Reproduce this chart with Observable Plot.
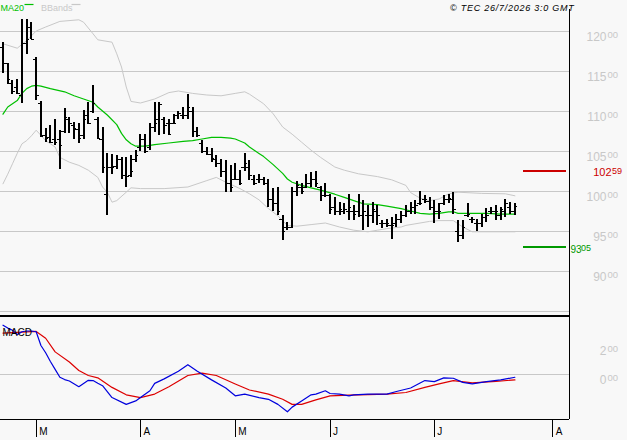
<!DOCTYPE html>
<html><head><meta charset="utf-8">
<script src="https://cdn.jsdelivr.net/npm/d3@7"></script>
<script src="https://cdn.jsdelivr.net/npm/@observablehq/plot@0.6"></script>
<style>
body{margin:0;background:#f8f8f8;}
#chart{position:relative;width:627px;height:440px;background:#f8f8f8;overflow:hidden;}
#chart svg{position:absolute;left:0;}
</style></head><body><div id="chart"></div>
<script>
// ---- data (bar index = trading day) ----
const highs  = [118.7,116.0,113.9,114.1,121.5,121.5,121.2,116.8,111.3,107.9,108.3,109.1,107.7,110.4,109.3,108.7,108.5,110.2,111.2,113.3,109.3,108.1,104.75,104.7,104.5,104.3,104.3,104.5,105.2,107.2,107.2,108.5,111.2,111.2,109.3,109.1,109.7,110.0,110.6,112.2,110.6,108.1,106.4,105.6,105.4,104.5,104.1,103.9,103.3,103.5,102.7,104.75,103.9,102.0,102.2,101.8,101.6,100.4,100.6,97.0,96.2,100.5,101.3,101.1,102.2,102.4,102.5,100.7,101.0,99.7,99.3,98.7,98.5,99.7,98.3,99.7,98.9,98.3,98.7,98.3,96.4,96.6,96.8,97.2,97.5,98.3,98.7,98.9,100.1,99.5,99.3,98.9,98.5,99.5,99.7,99.95,96.4,96.4,98.5,96.8,96.6,97.2,97.9,98.1,98.3,98.1,99.1,98.7,98.5];
const lows   = [114.8,113.4,112.2,112.2,111.1,117.2,119.0,111.4,106.8,106.2,106.1,105.8,102.75,107.3,107.3,106.6,106.0,106.5,108.4,109.75,106.6,102.3,97.0,102.2,102.75,101.6,100.6,101.8,103.7,105.0,104.75,105.2,107.45,107.0,107.2,107.0,108.5,109.1,109.1,109.1,106.8,106.8,104.75,104.5,103.7,103.1,101.8,99.95,99.95,101.4,100.8,102.5,101.4,100.8,101.0,100.8,98.1,97.5,97.0,93.9,95.2,95.4,99.4,99.7,100.4,100.6,100.5,98.8,99.3,97.2,97.0,97.0,97.2,96.4,96.4,96.8,95.2,95.6,96.0,95.8,95.4,95.6,94.0,95.6,96.0,96.8,97.2,97.2,98.3,98.5,97.7,96.0,96.6,98.3,98.5,97.2,93.7,94.1,96.8,96.0,95.0,95.6,96.2,97.2,96.4,96.4,96.8,97.2,97.0];
const opens  = [118.1,116.0,113.5,113.0,112.0,118.5,120.6,116.5,111.0,107.0,106.8,106.5,106.5,107.5,109.0,108.3,107.8,107.0,109.5,110.0,109.0,106.6,99.7,103.0,103.2,104.0,102.0,102.0,104.0,105.5,106.5,105.5,108.0,109.0,109.0,108.5,108.6,109.5,109.5,109.5,110.0,107.5,106.0,105.0,104.7,104.0,103.5,102.5,101.0,101.5,101.5,103.0,103.0,101.5,101.5,101.5,101.0,99.0,98.5,96.5,95.5,95.5,100.0,100.5,100.5,101.0,101.5,100.5,99.5,99.5,98.0,97.5,97.5,97.5,97.5,97.5,97.0,97.0,97.0,97.5,96.0,96.0,95.8,96.0,96.5,97.0,97.5,98.0,98.5,99.0,98.8,98.0,97.5,98.5,99.0,99.0,95.0,94.5,97.0,96.5,96.0,96.0,96.8,97.5,97.5,97.0,97.5,98.0,97.5];
const closes = [116.0,114.0,112.5,112.3,118.5,119.0,119.0,112.0,106.9,106.7,106.2,106.2,105.8,109.3,108.5,107.9,106.7,109.0,108.5,111.0,106.7,103.0,103.1,103.1,104.0,102.0,101.9,102.5,104.5,106.5,105.0,108.0,108.6,110.9,108.3,107.2,108.6,109.8,109.5,110.5,107.5,107.0,105.0,104.7,104.2,103.5,102.5,101.0,100.5,101.5,101.0,103.5,102.0,101.0,101.5,101.0,99.0,98.5,97.5,95.0,95.5,100.0,100.8,100.0,101.0,101.6,101.0,99.5,99.5,97.8,97.5,97.8,97.8,98.0,97.2,97.0,97.5,97.0,97.8,97.0,96.0,96.0,95.8,96.5,97.0,97.5,98.0,98.3,98.6,99.0,98.0,97.5,97.5,99.0,99.2,97.8,94.5,95.5,97.2,96.5,96.0,96.8,97.0,97.5,97.5,97.8,98.5,97.5,98.2];

const maIdx = [0,1,3,4,5,6,7,8,10,13,15,17,19,20,22,24,25,26,27,28,29,30,32,35,38,40,42,44,46,48,49,51,52,53,54,55,57,59,60,61,63,65,67,70,72,74,76,79,81,84,86,88,90,92,94,95,96,99,102,105,108];
const maVal = [109.7,110.6,111.4,112.3,112.9,113.2,113.3,113.2,112.9,112.5,112.0,111.6,111.2,110.6,109.6,108.4,107.3,106.5,106.0,105.7,105.7,105.7,105.9,106.1,106.3,106.4,106.6,106.8,106.8,106.7,106.6,106.1,105.6,105.2,104.8,104.4,103.4,102.3,101.6,101.2,100.8,100.5,100.2,99.7,99.3,98.9,98.5,98.4,98.2,97.9,97.6,97.3,97.2,97.3,97.5,97.5,97.3,97.3,97.3,97.2,97.2];

const bbUpIdx = [0,3,5,7,9,12,16,17,19,20,23,24,25,26,27,29,32,35,37,40,43,46,49,51,52,55,57,59,61,63,65,67,70,72,75,79,82,85,86,88,90,92,94,96,101,106,108];
const bbUpVal = [118.5,117.95,118.9,120.1,120.6,121.3,121.5,121.2,119.75,119.0,118.7,117.25,115.6,113.1,111.3,111.1,111.6,112.4,112.6,112.3,112.1,112.0,112.3,112.5,112.2,111.0,109.75,108.1,107.2,106.2,105.2,104.3,103.1,102.7,102.25,101.9,101.5,100.8,99.9,99.2,98.9,99.1,99.75,99.95,99.8,99.75,99.5];
const bbLoIdx = [0,1,2,3,4,5,6,7,9,11,12,14,16,18,20,21,22,23,24,26,27,29,34,39,43,45,47,50,52,54,56,58,60,62,65,68,71,74,77,79,81,84,85,90,92,95,97,99,108];
const bbLoVal = [101.0,102.2,103.5,104.8,106.0,106.4,107.0,107.7,106.4,105.6,104.3,103.7,103.3,102.7,101.8,100.6,99.95,98.7,98.9,99.95,100.5,100.4,100.4,100.6,101.4,101.8,101.2,100.4,99.75,99.0,97.9,97.0,95.8,95.7,95.9,96.1,95.6,95.2,95.0,95.2,95.4,95.6,95.8,96.3,96.4,96.4,95.6,95.0,95.0];

const macdIdx = [0,1,2,3,4,5,6,7,8,9,10,11,12,13,14,16,18,19,20,21,23,26,28,29,31,32,34,37,39,41,44,47,49,51,54,56,58,60,61,63,65,66,68,69,71,73,74,77,81,83,86,89,91,93,95,97,99,102,105,108];
const macdVal = [3.4,3.2,3.05,2.75,2.95,3.0,3.0,2.95,2.0,1.5,0.9,0.35,-0.19,-0.35,-0.45,-0.84,-0.4,-0.42,-0.6,-0.77,-1.59,-2.06,-1.82,-1.59,-1.12,-0.61,-0.3,0.23,0.68,0.23,-0.37,-0.93,-1.47,-1.35,-1.59,-1.71,-2.06,-2.57,-2.25,-1.82,-1.40,-1.35,-1.12,-1.31,-1.35,-1.47,-1.40,-1.35,-1.35,-1.17,-0.93,-0.42,-0.49,-0.23,-0.26,-0.54,-0.65,-0.49,-0.37,-0.19];
const sigIdx = [0,3,7,9,11,14,16,18,20,23,26,29,32,35,39,42,45,49,52,56,59,61,63,66,69,73,81,85,89,92,95,99,104,108];
const sigVal = [2.86,2.9,2.97,2.5,1.56,0.86,0.28,-0.07,-0.23,-0.89,-1.40,-1.59,-1.35,-0.84,-0.07,0.09,-0.07,-0.65,-1.07,-1.35,-1.71,-2.06,-2.06,-1.75,-1.47,-1.42,-1.35,-1.24,-0.89,-0.65,-0.42,-0.58,-0.47,-0.37];

const monthIdx = [7,29,49,69,91,116];
const monthLabels = ["M","A","M","J","J","A"];
const priceGrid = [85,90,95,100,105,110,115,120];
const priceLabels = [90,95,100,105,110,115,120];
const macdLabels = [0,2];
const refLevels = [102.59, 93.05];
const refColors = ["#cc0000", "#009900"];
const copyright = "© TEC 26/7/2026 3:0 GMT";

// ---- build ----
const font = '"Liberation Sans", Arial, sans-serif';
const step = 4.74, x0 = 2.5, frameRight = 569;
const xDomain = [-x0 / step, (frameRight - x0) / step];
const xMax = xDomain[1];
const nBars = highs.length;
const bars = highs.map((h, i) => ({i, high: h, low: lows[i], open: opens[i], close: closes[i]}));
const pts = (idx, val) => idx.map((d, k) => ({i: d, v: val[k]}));
const intPart = v => String(Math.floor(v + 1e-9));
const decPart = v => d3.format(".2f")(v).split(".")[1];
const refs = refLevels.map((v, k) => ({v, c: refColors[k]}));
const crisp = "crispEdges";

const yMain = [120 - (313 - 31.3) / 8, 120 + 31.3 / 8];
const main = Plot.plot({
  width: 627, height: 313,
  marginTop: 0, marginBottom: 0, marginLeft: 0, marginRight: 627 - frameRight,
  style: {background: "transparent", fontFamily: font, overflow: "visible"},
  x: {domain: xDomain, axis: null},
  y: {domain: yMain, axis: null},
  marks: [
    Plot.ruleY(priceGrid, {stroke: "#c8c8c8", strokeWidth: 1, shapeRendering: crisp}),
    Plot.line(pts(bbUpIdx, bbUpVal), {x: "i", y: "v", stroke: "#c8c8c8", strokeWidth: 1}),
    Plot.line(pts(bbLoIdx, bbLoVal), {x: "i", y: "v", stroke: "#c8c8c8", strokeWidth: 1}),
    Plot.line(pts(maIdx, maVal), {x: "i", y: "v", stroke: "#00c000", strokeWidth: 1.2}),
    Plot.ruleX(bars, {x: "i", y1: "low", y2: "high", stroke: "#000", strokeWidth: 2, shapeRendering: crisp}),
    Plot.ruleY(bars, {y: "open", x1: d => d.i - 0.6, x2: "i", stroke: "#000", strokeWidth: 1, shapeRendering: crisp}),
    Plot.ruleY(bars, {y: "close", x1: "i", x2: d => d.i + 0.6, stroke: "#000", strokeWidth: 1, shapeRendering: crisp}),
    Plot.ruleY(refs, {y: "v", x1: nBars + 0.9, x2: nBars + 9.9, stroke: "c", strokeWidth: 2, shapeRendering: crisp}),
    Plot.ruleX([xMax], {y1: yMain[0], y2: 122.75, stroke: "#000", strokeWidth: 1, shapeRendering: crisp}),
    // right axis labels
    Plot.text(priceLabels, {y: d => d, text: intPart, frameAnchor: "right", textAnchor: "end", dx: 37, dy: 5.5, fill: "#c8c8c8", fontSize: 12}),
    Plot.text(priceLabels, {y: d => d, text: decPart, frameAnchor: "right", textAnchor: "start", dx: 38, dy: 3.5, fill: "#c8c8c8", fontSize: 9.5}),
    // reference labels
    Plot.text([refs[0]], {y: "v", text: d => intPart(d.v), frameAnchor: "right", textAnchor: "end", dx: 42, dy: 1.8, fill: "c", fontSize: 11}),
    Plot.text([refs[0]], {y: "v", text: d => decPart(d.v), frameAnchor: "right", textAnchor: "start", dx: 42.5, dy: 0, fill: "c", fontSize: 9}),
    Plot.text([refs[1]], {y: "v", text: d => intPart(d.v), frameAnchor: "right", textAnchor: "start", dx: 1, dy: 2.4, fill: "c", fontSize: 10}),
    Plot.text([refs[1]], {y: "v", text: d => decPart(d.v), frameAnchor: "right", textAnchor: "start", dx: 11.5, dy: 1, fill: "c", fontSize: 9}),
    // header
    Plot.text(["MA20"], {frameAnchor: "top-left", textAnchor: "start", dx: 0, dy: 4.5, fill: "#00c000", fontSize: 9}),
    Plot.text(["BBands"], {frameAnchor: "top-left", textAnchor: "start", dx: 40.5, dy: 4.5, fill: "#c8c8c8", fontSize: 9}),
    Plot.text([copyright], {frameAnchor: "top-right", textAnchor: "end", dx: 5, dy: 4.5, fill: "#000", fontSize: 9, fontStyle: "italic"})
  ]
});

const yMacd = [(374 - 419) / 14.5, (374 - 313) / 14.5];
const macd = Plot.plot({
  width: 627, height: 127,
  marginTop: 0, marginBottom: 21, marginLeft: 0, marginRight: 627 - frameRight,
  style: {background: "transparent", fontFamily: font, overflow: "visible"},
  x: {domain: xDomain, axis: null},
  y: {domain: yMacd, axis: null},
  marks: [
    Plot.ruleY([0], {stroke: "#c8c8c8", strokeWidth: 1, shapeRendering: crisp}),
    Plot.ruleY([(374 - 315) / 14.5], {stroke: "#000", strokeWidth: 2, shapeRendering: crisp}),
    Plot.ruleY([yMacd[0]], {stroke: "#000", strokeWidth: 1, shapeRendering: crisp}),
    Plot.ruleX([xMax], {y1: yMacd[0], y2: yMacd[1], stroke: "#000", strokeWidth: 1, shapeRendering: crisp}),
    Plot.line(pts(sigIdx, sigVal), {x: "i", y: "v", stroke: "#dd0000", strokeWidth: 1.2}),
    Plot.line(pts(macdIdx, macdVal), {x: "i", y: "v", stroke: "#0000dd", strokeWidth: 1.2}),
    Plot.text(["MACD"], {frameAnchor: "top-left", textAnchor: "start", dx: 2, dy: 15, fill: "#000", fontSize: 10}),
    Plot.text(macdLabels, {y: d => d, text: intPart, frameAnchor: "right", textAnchor: "end", dx: 37, dy: 5.5, fill: "#c8c8c8", fontSize: 12}),
    Plot.text(macdLabels, {y: d => d, text: decPart, frameAnchor: "right", textAnchor: "start", dx: 38, dy: 3.5, fill: "#c8c8c8", fontSize: 9.5}),
    Plot.ruleX(monthIdx, {x: d => d, y1: yMacd[0], y2: (374 - 437) / 14.5, stroke: "#000", strokeWidth: 1, shapeRendering: crisp}),
    Plot.text(monthIdx, {x: d => d, text: (d, k) => monthLabels[k], frameAnchor: "bottom", textAnchor: "start", dx: 3, dy: 15, fill: "#000", fontSize: 10})
  ]
});

const chart = document.getElementById("chart");
main.style.top = "0px";
macd.style.top = "313px";
chart.appendChild(main);
chart.appendChild(macd);

// legend line samples after the header words
const svgMain = d3.select(main);
svgMain.append("line").attr("x1", 24.5).attr("x2", 33.5).attr("y1", 4.5).attr("y2", 4.5).attr("stroke", "#00c000").attr("stroke-width", 1.2);
svgMain.append("line").attr("x1", 71.5).attr("x2", 80.5).attr("y1", 4.5).attr("y2", 4.5).attr("stroke", "#c8c8c8").attr("stroke-width", 1.2);
svgMain.selectAll("text").filter(function() { return this.textContent === copyright; }).attr("letter-spacing", 0.75);
</script></body></html>
